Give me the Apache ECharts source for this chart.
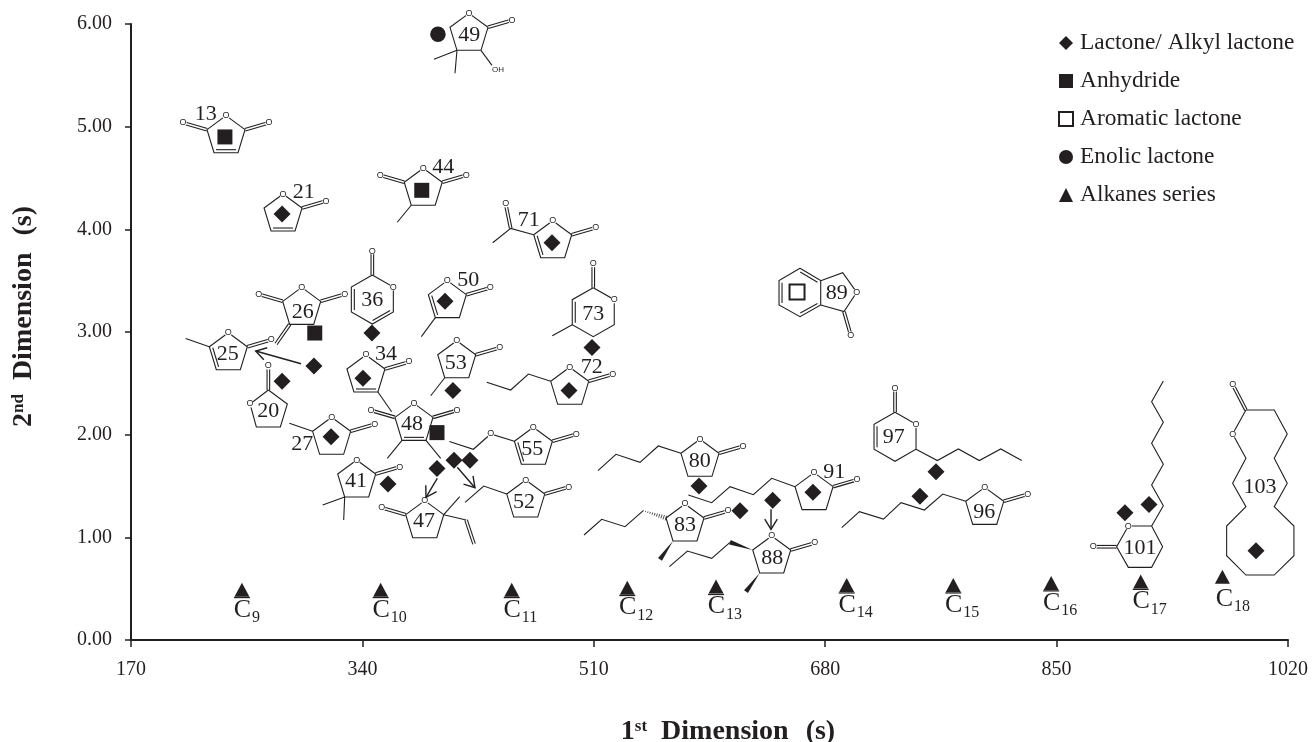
<!DOCTYPE html>
<html><head><meta charset="utf-8">
<style>html,body{margin:0;padding:0;background:#fff}#c{width:1315px;height:742px}</style>
<script src="https://cdn.jsdelivr.net/npm/echarts@6/dist/echarts.min.js"></script>
</head><body><div id="c"></div>
<script>
// ---------- values ----------
const yTicks = ['0.00','1.00','2.00','3.00','4.00','5.00','6.00'];
const xTicks = [170,340,510,680,850,1020];
const seriesNames = ['Lactone/ Alkyl lactone','Anhydride','Aromatic lactone','Enolic lactone','Alkanes series'];

const lactoneX = [281,400.7,479.3,347,508.7,304.4,281,340.4,406.5,491.8,317,358.8,394.8,407.3,419,587.3,617.4,641.4,671,761.4,749.6,900.2,917.9,996.5];
const lactoneY = [4.15,3.30,3.87,2.99,2.85,2.67,2.52,2.55,2.43,2.43,1.98,1.52,1.67,1.75,1.75,1.50,1.26,1.36,1.44,1.64,1.40,1.24,1.32,0.87];
const anhydrideX = [239,383.6,305,394.8];
const anhydrideY = [4.90,4.38,2.99,2.02];
const aromaticX = [659.3];
const aromaticY = [3.39];
const enolicX = [395.5];
const enolicY = [5.90];
const alkaneCarbons = [9,10,11,12,13,14,15,16,17,18];
const alkaneX = [251.5,353.4,449.7,534.6,599.8,695.8,774.1,846,911.8,971.8];
const alkaneY = [0.49,0.49,0.49,0.51,0.52,0.535,0.535,0.555,0.57,0.615];

const compoundIds = ['13','21','44','49','50','26','36','25','20','27','34','48','53','72','71','73','55','52','41','47','80','91','83','88','89','96','97','101','103'];
const compoundX = [239.8,281.7,384.7,418.3,402.4,295.4,347.3,241.5,270.9,317.4,342.6,377.9,409.3,492.3,479.8,509.6,465.6,460,335.8,385.8,588,671.8,577,640.7,661.5,797.2,731.3,902.7,989.1];
const compoundY = [5.107,4.344,4.595,6.104,3.5,3.435,3.555,2.993,2.435,2.169,2.776,2.305,2.915,2.656,4.084,3.432,2.072,1.558,1.753,1.357,1.955,1.63,1.325,1.013,3.62,1.487,2.218,1.11,2.24];

const arrowStartX = [294.9,395,409.7,640.2];
const arrowStartY = [2.691,1.575,1.682,1.273];
const arrowEndX = [261.6,386.7,422.7,640.2];
const arrowEndY = [2.815,1.39,1.483,1.078];

// ---------- structure drawing helpers (local pixel geometry) ----------
const ink = '#231f20';
const serif = '"Liberation Serif","Times New Roman",serif';
const R5 = [[0,0],[19,14],[12,37],[-12,37],[-19,14]];
const R6 = [[0,0],[21,12],[21,37],[0,49],[-21,37],[-21,12]];
const line = (...pts) => ({k:'l',pts});
const atom = (p,t='O') => ({k:'a',p,t});
const carbonyl = (p,q) => [{k:'c',p,q},atom(q)];
const inner = (p,q,c) => ({k:'i',p,q,c});
const wedge = (p,q) => ({k:'w',p,q});
const hash = (p,q) => ({k:'h',p,q});
function ring(pts, dbl, centre){
  const out=[line(...pts,pts[0])];
  (dbl||[]).forEach(i=>out.push(inner(pts[i],pts[(i+1)%pts.length],centre)));
  return out;
}
// five-membered lactone: O on top, C=O on the right; optional left C=O and double bonds
function r5(o){
  o=o||{};
  const d=[]; if(o.bottom)d.push(2); if(o.left)d.push(3);
  let a=ring(R5,d,[0,21]);
  a=a.concat(carbonyl(R5[1],[43,7]));
  if(o.coL)a=a.concat(carbonyl(R5[4],[-43,7]));
  return a.concat(o.more||[]).concat([atom([0,0])]);
}
function r6(dbl,more){
  return ring(R6,dbl,[0,24.5]).concat(carbonyl(R6[0],[0,-24])).concat(more||[]).concat([atom(R6[1])]);
}
const structures = {
 '13':{label:[-20.3,-1.7],ops:r5({coL:1,bottom:1})},
 '21':{label:[20.7,-1.7],ops:r5({bottom:1})},
 '44':{label:[20,-1],ops:r5({coL:1,more:[line(R5[3],[-26,54])]})},
 '49':{label:[0.3,21.4],ops:r5({more:[line(R5[3],[-35,46]),line(R5[3],[-14,60]),line(R5[2],[23,52]),atom([29,56],'OH')]})},
 '50':{label:[21,0],ops:r5({left:1,more:[line(R5[3],[-26,56])]})},
 '26':{label:[1,24.4],ops:r5({coL:1,more:[{k:'c',p:[-12,37],q:[-25.7,56.7]}]})},
 '36':{label:[0,25],ops:r6([2,4])},
 '25':{label:[-0.6,21.6],ops:r5({left:1,more:[line(R5[4],[-42.7,5.7])]})},
 '20':{label:[0,21.7],ops:ring([[0,0],[19,14],[12,37],[-12,37],[-18.3,14]],[],[0,21]).concat(carbonyl([0,0],[0,-24])).concat([atom([-18.3,14])])},
 '27':{label:[-29.4,27],ops:r5({more:[line(R5[4],[-42.3,6])]})},
 '34':{label:[20,-1],ops:r5({bottom:1,more:[line(R5[2],[25.7,56.7])]})},
 '48':{label:[-2,20.7],ops:r5({coL:1,bottom:1,more:[line(R5[3],[-26.7,55]),line(R5[2],[26.7,55])]})},
 '53':{label:[-1,22],ops:r5({more:[line(R5[3],[-26,55])]})},
 '72':{label:[22,0.4],ops:r5({more:[line(R5[4],[-41.3,6.7],[-59,22.7],[-83,15])]})},
 '71':{label:[-24,-0.7],ops:r5({left:1,more:[line(R5[4],[-42,7.7],[-60,22]),...carbonyl([-42,7.7],[-47,-16.7])]})},
 '73':{label:[0,26.3],ops:r6([4],[line(R6[4],[-41,48])])},
 '55':{label:[-1,22],ops:r5({left:1,more:[line(R5[4],[-42.7,6.7],[-60,22],[-84,14.3]),atom([-42.7,6.7])]})},
 '52':{label:[-1.7,22.3],ops:r5({more:[line(R5[4],[-42,6],[-60.7,22.3])]})},
 '41':{label:[-0.7,21],ops:r5({more:[line(R5[3],[-34,45]),line(R5[3],[-13,60])]})},
 '47':{label:[-0.7,21],ops:[line(...R5,R5[0]),...carbonyl(R5[4],[-43,7]),line(R5[1],[35,-4]),line(R5[1],[41.3,19.3]),{k:'c',p:[41.3,19.3],q:[49.3,43.3]},atom([0,0])]},
 '80':{label:[-0.3,22.4],ops:r5({more:[line(R5[4],[-41.7,6.7],[-60,23],[-84,15],[-102,31.3])]})},
 '91':{label:[20.3,0],ops:r5({more:[line(R5[4],[-42.3,5.7],[-60.7,22],[-84,14],[-102.3,30],[-125.7,22.3])]})},
 '83':{label:[0,21],ops:r5({more:[hash(R5[4],[-41.7,6.7]),line([-41.7,6.7],[-60,22.7],[-83.3,15.3],[-101,31]),wedge(R5[3],[-25,55.3])]})},
 '88':{label:[0.6,22.3],ops:r5({more:[wedge(R5[4],[-41.7,6.3]),line([-41.7,6.3],[-60,22.3],[-84.3,15],[-102.3,30.7]),wedge(R5[3],[-25.7,55.7])]})},
 '89':{label:[36.7,25],ops:[
   ...ring([[0,0],[20.7,12.3],[20.7,36.7],[0,48.3],[-21,36.7],[-21,12.3]],[0,2,4],[0,24.3]),
   line([20.7,12.3],[42.7,4.3],[56.7,24],[44,43.3],[20.7,36.7]),
   ...carbonyl([44,43.3],[50.7,66.7]),atom([56.7,24])]},
 '96':{label:[-0.4,24.4],ops:r5({more:[line(R5[4],[-42,6.7],[-60.3,22.7],[-83.7,15.3],[-101.3,31.7],[-125.3,24.3],[-143,40.3])]})},
 '97':{label:[-1.3,25.4],ops:r6([4],[line(R6[2],[42.3,48.3],[63.3,36.7],[84.3,48.3],[105.7,36.7],[126.7,48.3])])},
 '101':{label:[11.7,21.7],ops:[
   line([0,0],[23.3,0],[34.3,20.7],[23.3,41.3],[0,41.3],[-11.7,20.7],[0,0]),
   ...carbonyl([-11.7,20.7],[-35,20.7]),
   line([23.3,0],[35,-20.3],[23.3,-41],[35,-61.7],[23.3,-82.7],[35,-103.7],[23.3,-124.3],[35,-145]),
   atom([0,0])]},
 '103':{label:[14,76.7],ops:[
   line([0,0],[-13.3,24],[0,48.3],[-13.3,73.3],[0,96.7],[-19.3,116],[-19.3,145.7],[0,165],[28.3,165],[48,145.7],[48,116],[28.3,96.7],[41.3,73.3],[28.3,48.3],[41.3,24],[28.3,0],[0,0]),
   ...carbonyl([0,0],[-13.3,-25.7]),atom([-13.3,24])]}
};

function renderOp(op,ox,oy){
  const at=p=>[ox+p[0],oy+p[1]];
  const stroke={stroke:ink,lineWidth:1.1,fill:'none'};
  if(op.k==='l') return [{type:'polyline',shape:{points:op.pts.map(at)},style:stroke}];
  const p=op.p&&at(op.p), q=op.q&&at(op.q);
  if(op.k==='c'){
    const dx=q[0]-p[0],dy=q[1]-p[1],n=Math.hypot(dx,dy),ux=-dy/n*1.3,uy=dx/n*1.3;
    return [1,-1].map(s=>({type:'line',shape:{x1:p[0]+s*ux,y1:p[1]+s*uy,x2:q[0]+s*ux,y2:q[1]+s*uy},style:stroke}));
  }
  if(op.k==='i'){
    const dx=q[0]-p[0],dy=q[1]-p[1],n=Math.hypot(dx,dy);
    let ux=-dy/n,uy=dx/n; const c=at(op.c);
    const mx=(p[0]+q[0])/2,my=(p[1]+q[1])/2;
    if((c[0]-mx)*ux+(c[1]-my)*uy<0){ux=-ux;uy=-uy;}
    const tx=dx/n*2,ty=dy/n*2;
    return [{type:'line',shape:{x1:p[0]+ux*3+tx,y1:p[1]+uy*3+ty,x2:q[0]+ux*3-tx,y2:q[1]+uy*3-ty},style:stroke}];
  }
  if(op.k==='w'){
    const dx=q[0]-p[0],dy=q[1]-p[1],n=Math.hypot(dx,dy),ux=-dy/n*2.4,uy=dx/n*2.4;
    return [{type:'polygon',shape:{points:[p,[q[0]+ux,q[1]+uy],[q[0]-ux,q[1]-uy]]},style:{fill:ink}}];
  }
  if(op.k==='h'){
    const out=[],dx=q[0]-p[0],dy=q[1]-p[1],n=Math.hypot(dx,dy),m=11;
    for(let i=0;i<m;i++){
      const t=i/(m-1),W=0.3+t*2.2,vx=-dy/n*W,vy=dx/n*W,x=p[0]+dx*(1-t),y=p[1]+dy*(1-t);
      out.push({type:'line',shape:{x1:x-vx,y1:y-vy,x2:x+vx,y2:y+vy},style:{stroke:ink,lineWidth:0.8}});
    }
    return out;
  }
  if(op.k==='a'){
    const a=at(op.p);
    if(op.t==='O') return [
      {type:'circle',shape:{cx:a[0],cy:a[1],r:3.6},style:{fill:'#fff'}},
      {type:'text',style:{text:'O',x:a[0],y:a[1],fill:ink,font:'9px "Liberation Sans",Arial,sans-serif',align:'center',verticalAlign:'middle'}}];
    return [{type:'text',style:{text:op.t,x:a[0],y:a[1],fill:ink,font:'8px "Liberation Sans",Arial,sans-serif',align:'center',verticalAlign:'middle'}}];
  }
  return [];
}
function renderCompound(params,api){
  const id=compoundIds[params.dataIndex], s=structures[id];
  const c=api.coord([api.value(0),api.value(1)]);
  let kids=[];
  s.ops.forEach(op=>{kids=kids.concat(renderOp(op,c[0],c[1]));});
  kids.push({type:'text',style:{text:id,x:c[0]+s.label[0],y:c[1]+s.label[1],fill:ink,font:'22px '+serif,align:'center',verticalAlign:'middle'}});
  return {type:'group',children:kids};
}
function renderAlkaneLabel(params,api){
  const c=api.coord([api.value(0),api.value(1)]);
  const last=params.dataIndex===alkaneCarbons.length-1;
  const dx=last?2:0.5, dy=last?22:20;
  const kids=[
    {type:'text',style:{text:'C',x:c[0]+dx,y:c[1]+dy,fill:ink,font:'26px '+serif,align:'center',verticalAlign:'middle'}},
    {type:'text',style:{text:String(alkaneCarbons[params.dataIndex]),x:c[0]+dx+9.5,y:c[1]+dy+8,fill:ink,font:'16px '+serif,align:'left',verticalAlign:'middle'}}
  ];
  if(!last) kids.push({type:'rect',shape:{x:c[0]-8,y:c[1]+7.2,width:16,height:1.3},style:{fill:ink}});
  return {type:'group',children:kids};
}
function renderArrow(params,api){
  const a=api.coord([api.value(0),api.value(1)]), b=api.coord([api.value(2),api.value(3)]);
  const ang=Math.atan2(a[1]-b[1],a[0]-b[0]), L=12, w=0.55;
  const s={stroke:ink,lineWidth:1.4,fill:'none'};
  return {type:'group',children:[
    {type:'line',shape:{x1:a[0],y1:a[1],x2:b[0],y2:b[1]},style:s},
    {type:'polyline',shape:{points:[[b[0]+L*Math.cos(ang+w),b[1]+L*Math.sin(ang+w)],b,[b[0]+L*Math.cos(ang-w),b[1]+L*Math.sin(ang-w)]]},style:s}
  ]};
}
const zip=(a,b)=>a.map((v,i)=>[v,b[i]]);
const chart=echarts.init(document.getElementById('c'));
const scatter=(name,xs,ys,symbol,size,itemStyle)=>({name,type:'scatter',data:zip(xs,ys),symbol,symbolSize:size,itemStyle:Object.assign({opacity:1},itemStyle),z:5,silent:true,clip:false});
const titleRich={
  b:{fontFamily:'Liberation Serif',fontWeight:'bold',fontSize:28,color:ink},
  s:{fontFamily:'Liberation Serif',fontWeight:'bold',fontSize:17,color:ink,verticalAlign:'top',lineHeight:26},
  g:{width:3}
};
chart.setOption({
  animation:false,
  backgroundColor:'#fff',
  textStyle:{fontFamily:serif,color:ink},
  grid:{left:131,right:27,top:24,bottom:102,containLabel:false,outerBoundsMode:'none'},
  legend:{
    orient:'vertical',left:1053,top:26,itemWidth:14,itemHeight:14,itemGap:14,
    data:seriesNames,selectedMode:false,
    textStyle:{fontFamily:serif,fontSize:23.4,lineHeight:24,color:ink,padding:[0,0,0,2]}
  },
  xAxis:{
    type:'value',min:xTicks[0],max:xTicks[xTicks.length-1],interval:170,
    splitLine:{show:false},
    axisLine:{lineStyle:{color:ink,width:2}},
    axisTick:{length:7,lineStyle:{color:ink,width:1.5}},
    axisLabel:{margin:20,fontFamily:serif,fontSize:20,color:ink,formatter:v=>String(v),hideOverlap:false},
    name:'{b|1}{s|st}{b|  Dimension  }{g|}{b|(s)}',nameLocation:'middle',nameGap:78,
    nameTextStyle:{padding:[0,0,0,37],rich:titleRich}
  },
  yAxis:{
    type:'value',min:0,max:6,interval:1,
    splitLine:{show:false},
    axisLine:{lineStyle:{color:ink,width:2}},
    axisTick:{length:6,lineStyle:{color:ink,width:1.5}},
    axisLabel:{margin:19,fontFamily:serif,fontSize:20,color:ink,formatter:v=>yTicks[Math.round(v)]},
    name:'{b|2}{s|nd}{b|  Dimension  }{g|}{b|(s)}',nameLocation:'middle',nameGap:93,nameRotate:90,
    nameTextStyle:{padding:[0,0,0,31],rich:titleRich}
  },
  series:[
    {name:'structures',type:'custom',renderItem:renderCompound,data:zip(compoundX,compoundY),silent:true,clip:false,z:2},
    {name:'arrows',type:'custom',renderItem:renderArrow,data:arrowStartX.map((v,i)=>[v,arrowStartY[i],arrowEndX[i],arrowEndY[i]]),silent:true,clip:false,z:3,encode:{x:[0,2],y:[1,3]}},
    scatter(seriesNames[0],lactoneX,lactoneY,'diamond',17,{color:ink}),
    scatter(seriesNames[1],anhydrideX,anhydrideY,'rect',15,{color:ink}),
    scatter(seriesNames[2],aromaticX,aromaticY,'rect',15,{color:'#fff',borderColor:ink,borderWidth:2}),
    scatter(seriesNames[3],enolicX,enolicY,'circle',15.5,{color:ink}),
    scatter(seriesNames[4],alkaneX,alkaneY,'triangle',[15,14],{color:ink}),
    {name:'alkane labels',type:'custom',renderItem:renderAlkaneLabel,data:zip(alkaneX,alkaneY),silent:true,clip:false,z:4}
  ]
});
</script></body></html>
